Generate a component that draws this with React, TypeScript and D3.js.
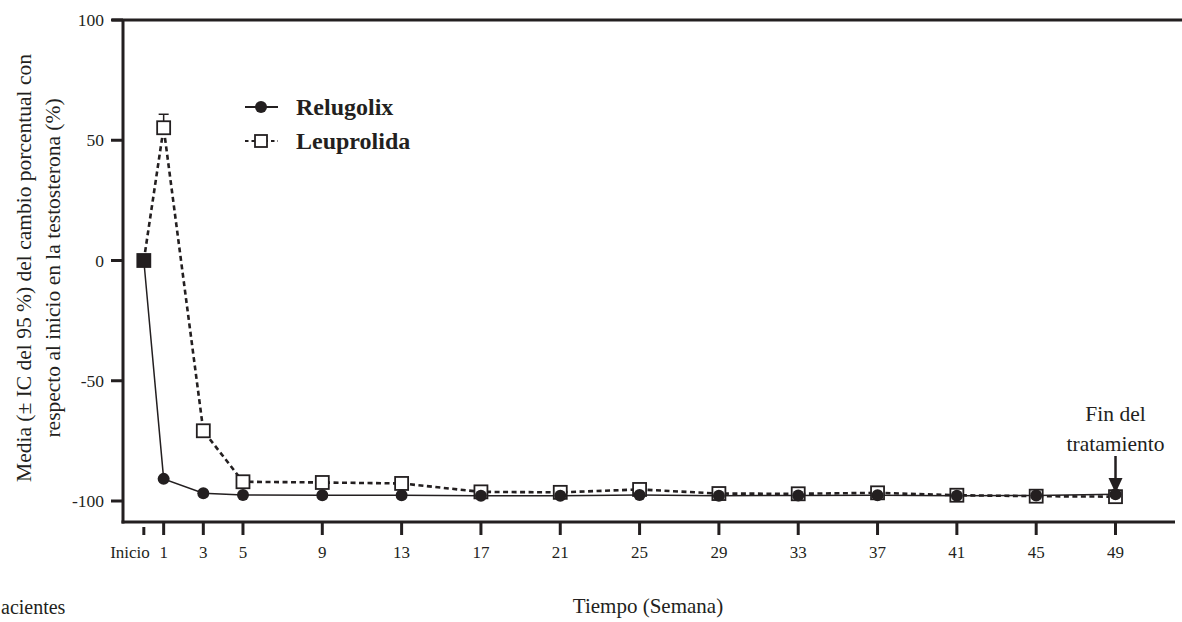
import React, { useEffect } from 'react';
import * as d3 from 'd3';

const weeks = [0, 1, 3, 5, 9, 13, 17, 21, 25, 29, 33, 37, 41, 45, 49];
const tickWeeks = [0, 1, 3, 5, 9, 13, 17, 21, 25, 29, 33, 37, 41, 45, 49];
const tickLabels = ['Inicio', '1', '3', '5', '9', '13', '17', '21', '25', '29', '33', '37', '41', '45', '49'];
const yTicks = [100, 50, 0, -50, -100];

const relugolix = [0, -90.8, -96.8, -97.5, -97.6, -97.6, -97.8, -97.8, -97.5, -97.8, -97.7, -97.6, -97.8, -97.7, -97.2];
const relugolixCI = [0, 0.8, 0.4, 0.3, 0.3, 0.3, 0.3, 0.3, 0.3, 0.3, 0.3, 0.3, 0.3, 0.3, 0.3];
const leuprolida = [0, 55.2, -70.8, -92.0, -92.3, -92.7, -96.2, -96.4, -95.2, -96.9, -97.0, -96.6, -97.6, -98.0, -98.2];
const leuprolidaCI = [0, 5.6, 2.4, 1.3, 1.4, 1.3, 0.6, 0.7, 1.2, 0.6, 0.6, 0.6, 0.4, 0.4, 0.4];

const FONT = '"Liberation Serif", "Times New Roman", serif';
const INK = '#231f20';

export default function App() {
  useEffect(() => {
    document.body.style.margin = '0';
  }, []);

  const x = d3.scaleLinear().domain([-1.05, 52]).range([123, 1175]);
  const y = d3.scaleLinear().domain([100, -100]).range([20, 501]);
  const yBottom = 522;

  const relData = weeks.map((w, i) => ({ w, v: relugolix[i], ci: relugolixCI[i] }));
  const leuData = weeks.map((w, i) => ({ w, v: leuprolida[i], ci: leuprolidaCI[i] }));

  const line = d3.line<{ w: number; v: number }>().x(d => x(d.w)).y(d => y(d.v));
  const sq = 13;

  return (
    <svg width={1182} height={622} style={{ display: 'block' }} fontFamily={FONT}>
      <rect width={1182} height={622} fill="#fff" />
      {/* axes */}
      <line x1={123} x2={123} y1={19} y2={yBottom + 1.5} stroke={INK} strokeWidth={3} />
      <line x1={112} x2={1182} y1={20} y2={20} stroke={INK} strokeWidth={3} />
      <line x1={121.5} x2={1175} y1={yBottom} y2={yBottom} stroke={INK} strokeWidth={3} />
      {yTicks.map(t => (
        <g key={t}>
          <line x1={111} x2={123} y1={y(t)} y2={y(t)} stroke={INK} strokeWidth={3} />
          <text x={104} y={y(t) + 6} textAnchor="end" fontSize={17.5} fill={INK}>{t}</text>
        </g>
      ))}
      {tickWeeks.map((t, i) => (
        <g key={t}>
          <line x1={x(t)} x2={x(t)} y1={i === 0 ? yBottom + 5 : yBottom} y2={yBottom + 13} stroke={INK} strokeWidth={3} />
          <text x={i === 0 ? x(t) + 6 : x(t)} y={yBottom + 36} textAnchor={i === 0 ? 'end' : 'middle'} fontSize={17} fill={INK}>{tickLabels[i]}</text>
        </g>
      ))}

      {/* axis titles */}
      <text transform="translate(31,268) rotate(-90)" textAnchor="middle" fontSize={21.5} fill={INK}>
        Media (± IC del 95 %) del cambio porcentual con
      </text>
      <text transform="translate(60,268) rotate(-90)" textAnchor="middle" fontSize={21.5} fill={INK}>
        respecto al inicio en la testosterona (%)
      </text>
      <text x={648} y={613} textAnchor="middle" fontSize={21} fill={INK}>Tiempo (Semana)</text>
      <text x={1} y={614} fontSize={20} fill={INK}>acientes</text>

      {/* lines */}
      <path d={line(leuData) || ''} fill="none" stroke={INK} strokeWidth={2.6} strokeDasharray="5,3.5" />
      <path d={line(relData) || ''} fill="none" stroke={INK} strokeWidth={1.5} />

      {/* error bars (upper) */}
      {leuData.filter(d => d.ci > 0).map(d => (
        <g key={'e' + d.w} stroke={INK} strokeWidth={1.5}>
          <line x1={x(d.w)} x2={x(d.w)} y1={y(d.v)} y2={y(d.v + d.ci)} />
          <line x1={x(d.w) - 5} x2={x(d.w) + 5} y1={y(d.v + d.ci)} y2={y(d.v + d.ci)} />
        </g>
      ))}

      {/* markers */}
      {leuData.map(d => (
        <rect key={'s' + d.w} x={x(d.w) - sq / 2} y={y(d.v) - sq / 2} width={sq} height={sq}
          fill={d.w === 0 ? INK : '#fff'} stroke={INK} strokeWidth={1.8} />
      ))}
      {relData.map(d => (
        <circle key={'c' + d.w} cx={x(d.w)} cy={y(d.v)} r={d.w === 0 ? 0 : 6} fill={INK} />
      ))}

      {/* legend */}
      <line x1={245} x2={278} y1={107} y2={107} stroke={INK} strokeWidth={2} />
      <circle cx={261} cy={107} r={6} fill={INK} />
      <line x1={245} x2={278} y1={141} y2={141} stroke={INK} strokeWidth={2} strokeDasharray="3.5,3" />
      <rect x={255} y={135} width={12} height={12} fill="#fff" stroke={INK} strokeWidth={1.8} />
      <text x={296} y={115} fontSize={24} fontWeight="bold" fill={INK}>Relugolix</text>
      <text x={296} y={149} fontSize={24} fontWeight="bold" fill={INK}>Leuprolida</text>

      {/* end of treatment annotation */}
      <text x={x(49)} y={421} textAnchor="middle" fontSize={21.5} fill={INK}>Fin del</text>
      <text x={x(49)} y={451} textAnchor="middle" fontSize={21.5} fill={INK}>tratamiento</text>
      <line x1={x(49)} x2={x(49)} y1={456} y2={482} stroke={INK} strokeWidth={2.5} />
      <path d={`M${x(49) - 7},${478} L${x(49) + 7},${478} L${x(49)},${493} Z`} fill={INK} />
    </svg>
  );
}
